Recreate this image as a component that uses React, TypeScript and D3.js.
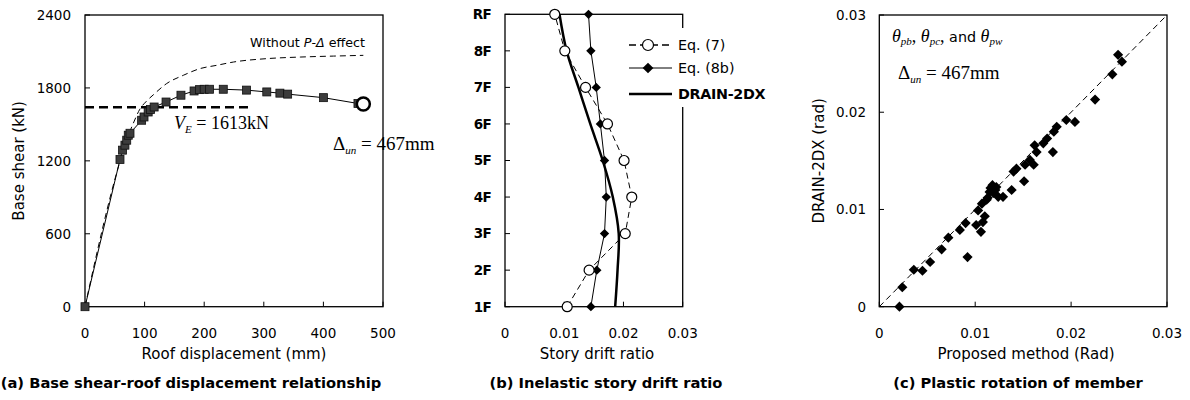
import * as d3 from 'd3';

// (a) pushover curve, squares
const roofDisp = [0, 58.7, 63, 67, 70, 72.6, 75.5, 95, 99, 106, 110, 116, 136, 161, 183, 192, 200, 209, 232, 271, 305, 327, 340, 400, 458];
const baseShear = [0, 1211, 1288, 1329, 1370, 1411, 1427, 1534, 1561, 1602, 1622, 1643, 1684, 1740, 1775, 1786, 1789, 1789, 1789, 1782, 1767, 1757, 1749, 1720, 1672];
const ultDisp = 467;
const ultShear = 1668;
// (a) without P-delta
const noPdDisp = [0, 59, 72, 82, 92, 103, 115, 137, 165, 193, 221, 249, 305, 361, 417, 467];
const noPdShear = [0, 1200, 1400, 1520, 1625, 1690, 1745, 1836, 1904, 1959, 1986, 2013, 2041, 2054, 2062, 2068];
const veLevel = 1640;
const veEnd = 276;

// (b) story drift
const floors = ['1F', '2F', '3F', '4F', '5F', '6F', '7F', '8F', 'RF'];
const eq7 = [0.0105, 0.0142, 0.0203, 0.0214, 0.0201, 0.0173, 0.0136, 0.0101, 0.0084];
const eq8b = [0.0145, 0.0155, 0.0168, 0.0171, 0.0168, 0.0161, 0.0154, 0.0145, 0.0141];
const drain = [0.0186, 0.0190, 0.0192, 0.0182, 0.0165, 0.0144, 0.0124, 0.0104, 0.0092];

// (c) plastic rotation
const propRot = [0.0021, 0.0024, 0.0036, 0.0045, 0.0053, 0.0065, 0.0072, 0.0084, 0.0090, 0.0092, 0.0101, 0.0103, 0.0106, 0.0108, 0.0110, 0.0107, 0.0112, 0.0116, 0.0119, 0.0122, 0.0124, 0.0129, 0.0138, 0.0121, 0.0151, 0.0140, 0.0143, 0.0152, 0.0161, 0.0157, 0.0164, 0.0162, 0.0171, 0.0175, 0.0181, 0.0182, 0.0185, 0.0195, 0.0204, 0.0225, 0.0243, 0.0249, 0.0253, 0.0115, 0.0113, 0.0118];
const drainRot = [0.0000, 0.0020, 0.0038, 0.0037, 0.0046, 0.0059, 0.0071, 0.0079, 0.0086, 0.0051, 0.0084, 0.0099, 0.0077, 0.0087, 0.0093, 0.0106, 0.0110, 0.0122, 0.0117, 0.0123, 0.0113, 0.0113, 0.0120, 0.0120, 0.0129, 0.0139, 0.0142, 0.0146, 0.0146, 0.0151, 0.0159, 0.0166, 0.0168, 0.0173, 0.0159, 0.0180, 0.0185, 0.0192, 0.0190, 0.0213, 0.0239, 0.0259, 0.0252, 0.0118, 0.0112, 0.0125];

const aTicksX = [0, 100, 200, 300, 400, 500];
const aTicksY = [0, 600, 1200, 1800, 2400];
const bTicksX = [0, 0.01, 0.02, 0.03];
const cTicks = [0, 0.01, 0.02, 0.03];

const SANS = '"DejaVu Sans", Verdana, sans-serif';
const SERIF = '"Liberation Serif", "Times New Roman", serif';
const TICK = 13.5;
const TITLE = 15;
const CAPTION = 14.7;

export default function App() {
  const top = 15, bottom = 306.7;

  // panel a
  const xa = d3.scaleLinear().domain([0, 500]).range([85, 383]);
  const ya = d3.scaleLinear().domain([0, 2400]).range([bottom, top]);
  const pushPts: [number, number][] = roofDisp.map((d, i) => [d, baseShear[i]]);
  const pushLine = d3.line<[number, number]>().x(d => xa(d[0])).y(d => ya(d[1]));
  const noPdLine = d3.line<[number, number]>().x(d => xa(d[0])).y(d => ya(d[1])).curve(d3.curveMonotoneX);
  const noPdPts: [number, number][] = noPdDisp.map((d, i) => [d, noPdShear[i]]);

  // panel b
  const xb = d3.scaleLinear().domain([0, 0.03]).range([505, 682.7]);
  const yb = d3.scalePoint<string>().domain(floors).range([bottom, 14.3]);
  const fl = (arr: number[]) => d3.line<number>().x(d => xb(d)).y((_, i) => yb(floors[i])!)(arr) || '';
  const drainPath = d3.line<number>().x(d => xb(d)).y((_, i) => yb(floors[i])!).curve(d3.curveCatmullRom)(drain) || '';

  // panel c
  const xc = d3.scaleLinear().domain([0, 0.03]).range([879.3, 1167]);
  const yc = d3.scaleLinear().domain([0, 0.03]).range([bottom, top]);

  const frame = (x0: number, x1: number, y0: number, y1: number) => (
    <rect x={x0} y={y0} width={x1 - x0} height={y1 - y0} fill="none" stroke="#000" strokeWidth={1.3} />
  );

  return (
    <svg width={1190} height={400} style={{ position: 'absolute', left: 0, top: 0, background: '#fff' }}
      fontFamily={SANS}>
      <rect width={1190} height={400} fill="#fff" />

      {/* ---------- (a) ---------- */}
      <g>
        {aTicksY.map(t => (
          <g key={'ay' + t}>
            <line x1={85} x2={90} y1={ya(t)} y2={ya(t)} stroke="#000" />
            <text x={71} y={ya(t)} dy="0.36em" textAnchor="end" fontSize={TICK}>{t}</text>
          </g>
        ))}
        {aTicksX.map(t => (
          <g key={'ax' + t}>
            <line x1={xa(t)} x2={xa(t)} y1={bottom} y2={bottom - 5} stroke="#000" />
            <text x={xa(t)} y={bottom + 31} textAnchor="middle" fontSize={TICK}>{t}</text>
          </g>
        ))}
        {frame(85, 383, top, bottom)}
        <text x={234} y={359} textAnchor="middle" fontSize={TITLE}>Roof displacement (mm)</text>
        <text transform={`translate(24,${(top + bottom) / 2}) rotate(-90)`} textAnchor="middle" fontSize={TITLE}>Base shear (kN)</text>

        <path d={noPdLine(noPdPts) || ''} fill="none" stroke="#000" strokeWidth={1} strokeDasharray="6,4" />
        <line x1={xa(0)} x2={xa(veEnd)} y1={ya(veLevel)} y2={ya(veLevel)} stroke="#000" strokeWidth={2.5} strokeDasharray="9,5" />
        <path d={(pushLine([...pushPts, [ultDisp, ultShear]]) || '')} fill="none" stroke="#000" strokeWidth={1} />
        {pushPts.map((p, i) => (
          <rect key={'sq' + i} x={xa(p[0]) - 4} y={ya(p[1]) - 4} width={8} height={8} fill="#3c3c3c" stroke="#111" strokeWidth={0.8} />
        ))}
        <circle cx={xa(ultDisp)} cy={ya(ultShear)} r={6.5} fill="#fff" stroke="#000" strokeWidth={2.5} />

        <text x={365} y={47} textAnchor="end" fontSize={12.7}>Without <tspan fontStyle="italic">P</tspan>-<tspan fontStyle="italic">Δ</tspan> effect</text>
        <text x={174} y={129} fontFamily={SERIF} fontSize={18}>
          <tspan fontStyle="italic">V</tspan><tspan fontSize={11} fontStyle="italic" dy={4}>E</tspan><tspan dy={-4}> = 1613kN</tspan>
        </text>
        <text x={333} y={150} fontFamily={SERIF} fontSize={19}>
          Δ<tspan fontSize={11} fontStyle="italic" dy={4}>un</tspan><tspan dy={-4}> = 467mm</tspan>
        </text>
        <text x={191} y={388} textAnchor="middle" fontWeight="bold" fontSize={CAPTION}>(a) Base shear-roof displacement relationship</text>
      </g>

      {/* ---------- (b) ---------- */}
      <g>
        {floors.map(f => (
          <g key={'bf' + f}>
            <line x1={505} x2={510} y1={yb(f)!} y2={yb(f)!} stroke="#000" />
            <text x={491} y={yb(f)!} dy="0.36em" textAnchor="end" fontSize={13.5} fontWeight="bold" letterSpacing={-0.7}>{f}</text>
          </g>
        ))}
        {bTicksX.map(t => (
          <g key={'bx' + t}>
            <line x1={xb(t)} x2={xb(t)} y1={bottom} y2={bottom - 5} stroke="#000" />
            <text x={xb(t)} y={bottom + 31} textAnchor="middle" fontSize={TICK}>{t === 0 ? '0' : t.toFixed(2)}</text>
          </g>
        ))}
        {frame(505, 682.7, 14.3, bottom)}
        <text x={597} y={359} textAnchor="middle" fontSize={TITLE}>Story drift ratio</text>

        <path d={fl(eq7)} fill="none" stroke="#000" strokeWidth={1} strokeDasharray="6,4" />
        <path d={fl(eq8b)} fill="none" stroke="#000" strokeWidth={1} />
        <path d={drainPath} fill="none" stroke="#000" strokeWidth={2.5} />
        {eq8b.map((v, i) => (
          <rect key={'d8' + i} x={-3.3} y={-3.3} width={6.6} height={6.6} fill="#000"
            transform={`translate(${xb(v)},${yb(floors[i])}) rotate(45)`} />
        ))}
        {eq7.map((v, i) => (
          <circle key={'c7' + i} cx={xb(v)} cy={yb(floors[i])!} r={5} fill="#fff" stroke="#000" strokeWidth={1.2} />
        ))}

        {/* legend */}
        <rect x={626} y={28} width={150} height={79} fill="#fff" />
        <line x1={629} x2={672} y1={45} y2={45} stroke="#000" strokeWidth={1.3} strokeDasharray="7,4" />
        <circle cx={648} cy={45} r={5.5} fill="#fff" stroke="#000" strokeWidth={1.2} />
        <text x={678} y={45} dy="0.36em" fontSize={14.3}>Eq. (7)</text>
        <line x1={629} x2={672} y1={68} y2={68} stroke="#000" strokeWidth={1} />
        <rect x={-3.8} y={-3.8} width={7.6} height={7.6} fill="#000" transform="translate(648,68) rotate(45)" />
        <text x={678} y={68} dy="0.36em" fontSize={14.3}>Eq. (8b)</text>
        <line x1={629} x2={672} y1={94} y2={94} stroke="#000" strokeWidth={2.5} />
        <text x={678} y={94} dy="0.36em" fontSize={14.3} fontWeight="bold" letterSpacing={-0.3}>DRAIN-2DX</text>

        <text x={606} y={388} textAnchor="middle" fontWeight="bold" fontSize={CAPTION}>(b) Inelastic story drift ratio</text>
      </g>

      {/* ---------- (c) ---------- */}
      <g>
        {cTicks.map(t => (
          <g key={'cy' + t}>
            <line x1={879.3} x2={884} y1={yc(t)} y2={yc(t)} stroke="#000" />
            <text x={866} y={yc(t)} dy="0.36em" textAnchor="end" fontSize={TICK}>{t === 0 ? '0' : t.toFixed(2)}</text>
            <line x1={xc(t)} x2={xc(t)} y1={bottom} y2={bottom - 5} stroke="#000" />
            <text x={xc(t)} y={bottom + 31} textAnchor="middle" fontSize={TICK}>{t === 0 ? '0' : t.toFixed(2)}</text>
          </g>
        ))}
        {frame(879.3, 1167, top, bottom)}
        <text x={1026} y={359} textAnchor="middle" fontSize={TITLE}>Proposed method (Rad)</text>
        <text transform={`translate(824,${(top + bottom) / 2}) rotate(-90)`} textAnchor="middle" fontSize={TITLE}>DRAIN-2DX (rad)</text>
        <line x1={xc(0)} y1={yc(0)} x2={xc(0.03)} y2={yc(0.03)} stroke="#000" strokeWidth={1} strokeDasharray="6,4" />
        {propRot.map((v, i) => (
          <rect key={'cp' + i} x={-3.6} y={-3.6} width={7.2} height={7.2} fill="#000"
            transform={`translate(${xc(v)},${yc(drainRot[i])}) rotate(45)`} />
        ))}
        <text x={892} y={42} fontSize={18}>
          <tspan fontFamily={SERIF} fontStyle="italic">θ</tspan><tspan fontFamily={SERIF} fontStyle="italic" fontSize={11} dy={3}>pb</tspan><tspan fontFamily={SERIF} dy={-3}>, </tspan>
          <tspan fontFamily={SERIF} fontStyle="italic">θ</tspan><tspan fontFamily={SERIF} fontStyle="italic" fontSize={11} dy={3}>pc</tspan><tspan fontFamily={SERIF} dy={-3}>,</tspan>
          <tspan fontSize={14.3}> and </tspan>
          <tspan fontFamily={SERIF} fontStyle="italic">θ</tspan><tspan fontFamily={SERIF} fontStyle="italic" fontSize={11} dy={3}>pw</tspan>
        </text>
        <text x={898} y={79} fontFamily={SERIF} fontSize={19}>
          Δ<tspan fontSize={11} fontStyle="italic" dy={4}>un</tspan><tspan dy={-4}> = 467mm</tspan>
        </text>
        <text x={1018} y={388} textAnchor="middle" fontWeight="bold" fontSize={CAPTION}>(c) Plastic rotation of member</text>
      </g>
    </svg>
  );
}
